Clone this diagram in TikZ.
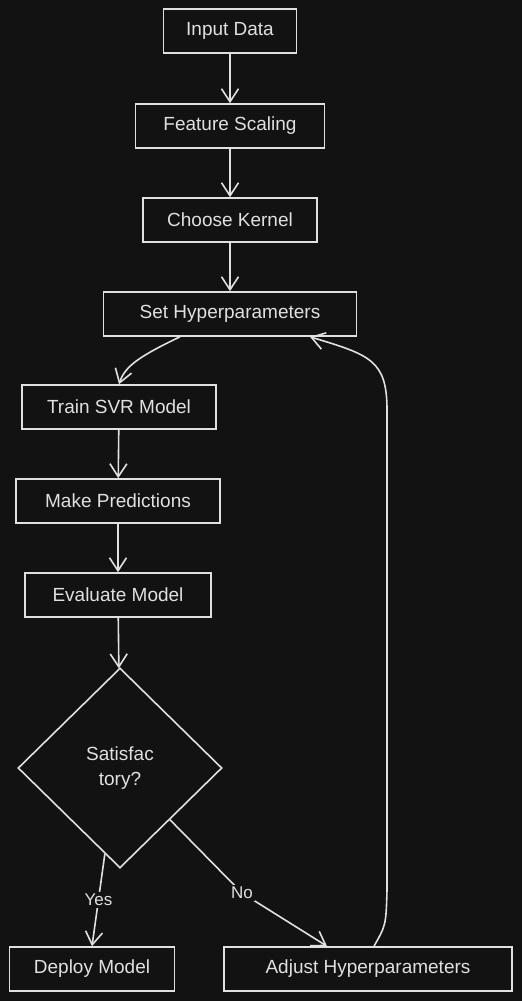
\documentclass[tikz,border=0pt]{standalone}
\usepackage{fontspec}
\setmainfont{Liberation Sans}
\usetikzlibrary{shapes.geometric,arrows.meta}

\definecolor{bgdark}{HTML}{121212}
\definecolor{chalk}{HTML}{E0E0E0}

\tikzset{
  procbox/.style={draw=chalk, line width=1.6pt, text=chalk, minimum height=44pt,
    inner sep=0pt, font=\fontsize{19}{22}\selectfont},
  decision/.style={diamond, draw=chalk, line width=1.6pt, text=chalk, align=center,
    minimum width=204pt, minimum height=200pt, inner sep=0pt, font=\fontsize{19}{25}\selectfont},
  flowarrow/.style={draw=chalk, line width=1.6pt, -{Straight Barb[length=13pt,width=17pt]}},
  edgelabel/.style={fill=bgdark, text=chalk, inner sep=2pt, font=\fontsize{17}{19}\selectfont}
}

\begin{document}
\begin{tikzpicture}[x=1pt,y=-1pt]

% Background
\fill[bgdark] (0,0) rectangle (522,1001);
\useasboundingbox (0,0) rectangle (522,1001);

% Steps
\node[procbox, minimum width=133pt] (input) at (230,31) {Input Data};
\node[procbox, minimum width=189pt] (scaling) at (230,126) {Feature Scaling};
\node[procbox, minimum width=174pt] (kernel) at (230,220) {Choose Kernel};
\node[procbox, minimum width=253pt] (sethyper) at (230,314) {Set Hyperparameters};
\node[procbox, minimum width=194pt] (train) at (119,407) {Train SVR Model};
\node[procbox, minimum width=204pt] (predict) at (118,501) {Make Predictions};
\node[procbox, minimum width=186pt] (evaluate) at (118,595) {Evaluate Model};
\node[decision] (decide) at (120,768) {Satisfac\\tory?};
\node[procbox, minimum width=165pt] (deploy) at (92,969) {Deploy Model};
\node[procbox, minimum width=288pt] (adjust) at (368,969) {Adjust Hyperparameters};

% Connectors
\draw[flowarrow] (input) -- (scaling);
\draw[flowarrow] (scaling) -- (kernel);
\draw[flowarrow] (kernel) -- (sethyper);
\draw[flowarrow] ([xshift=-50pt]sethyper.south) .. controls (140,356) and (125,366) .. (train.north);
\draw[flowarrow] (train) -- (predict);
\draw[flowarrow] (predict) -- (evaluate);
\draw[flowarrow] (evaluate) -- (decide);
\draw[flowarrow] (decide.-100) -- node[edgelabel, pos=0.5] {Yes} (deploy.north);
\draw[flowarrow] (decide.-46) -- (242,893) node[edgelabel] {No} -- ([xshift=-41pt]adjust.north);
\draw[flowarrow] ([xshift=6pt]adjust.north) .. controls (386,925) .. (387,890)
  -- (387,410) .. controls (387,360) and (370,355) .. ([xshift=80pt]sethyper.south);

\end{tikzpicture}
\end{document}
